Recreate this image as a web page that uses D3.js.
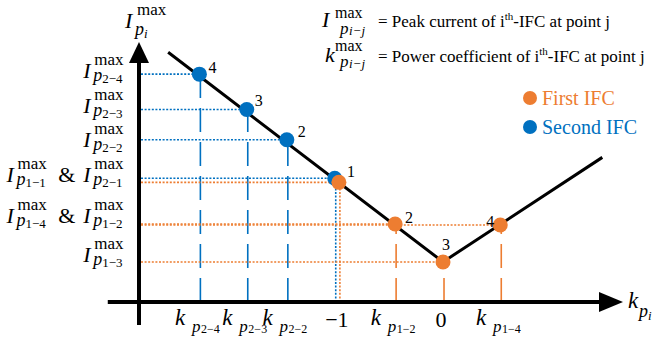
<!DOCTYPE html>
<html>
<head>
<meta charset="utf-8">
<script src="https://cdn.jsdelivr.net/npm/d3@7"></script>
<style>
  body { margin: 0; background: #fff; }
  svg { display: block; }
</style>
</head>
<body>
<div id="viz"></div>
<script>
const width = 655;
const height = 337;

// operating points j = 1..4 of each IFC (k = power coefficient, I = peak current)
const firstK = [-1, -0.46, 0, 0.55];
const firstI = [1.15, 0.75, 0.385, 0.74];
const secondK = [-1.04, -1.5, -1.885, -2.34];
const secondI = [1.19, 1.56, 1.85, 2.19];
const pointIds = ['1', '2', '3', '4'];

// the black V-shaped characteristic
const curveK = [-2.64, 0, 1.53];
const curveI = [2.4, 0.385, 1.39];

// tick labels (['k', index] = k_p index, single string = plain number)
const xTickK = [-2.34, -1.885, -1.5, -1, -0.46, 0, 0.55];
const xTickLabels = [['k', '2−4'], ['k', '2−3'], ['k', '2−2'], ['−1'], ['k', '1−2'], ['0'], ['k', '1−4']];
const yTickI = [2.19, 1.85, 1.56, 1.19, 0.75, 0.385];
const yTickLabels = [['2−4'], ['2−3'], ['2−2'], ['1−1', '2−1'], ['1−4', '1−2'], ['1−3']];

const legendNames = ['First IFC', 'Second IFC'];

const blue = '#0070c0';
const orange = '#ed7d31';
const serif = '"Liberation Serif", "DejaVu Serif", "Times New Roman", serif';

// layout nudges for labels only
const yLabelNudge = [0, -1, 3, 0, -5, -4];
const blueLabelOffset = [null, [11, -3], [8, -4], [9, -1]];
const orangeLabelOffset = [[8, -5], [10, -1], [-1, -12], [-14, 2]];

const svg = d3.select('#viz').append('svg')
  .attr('width', width)
  .attr('height', height)
  .attr('font-family', serif)
  .style('font-family', serif);

const xScale = d3.scaleLinear().domain([-2.92, 1.7]).range([139, 620]);
const yScale = d3.scaleLinear().domain([0, 2.47]).range([302, 45]);

const x0 = xScale(-2.92);
const y0 = yScale(0);

/**
 * Builds a symbol like I^max_{p_{2-4}} inside a group, origin at the base glyph baseline.
 */
function mathLabel(parent, base, idx, st) {
  const g = parent.append('g');
  g.append('text').attr('font-style', 'italic').attr('font-size', st.base).text(base);
  if (st.sup) {
    g.append('text').attr('x', st.supX).attr('y', st.supY).attr('font-size', st.sup).text('max');
  }
  g.append('text').attr('x', st.pX).attr('y', st.pY)
    .attr('font-style', 'italic').attr('font-size', st.p).text('p');
  g.append('text').attr('x', st.idxX).attr('y', st.idxY)
    .attr('font-style', st.idxItalic ? 'italic' : null)
    .attr('font-size', st.idx).text(idx);
  return g;
}

const yStyle = { base: 22, sup: 17, supX: 11, supY: -13, p: 18, pX: 10, pY: 3, idx: 13, idxX: 19, idxY: 5 };
const xStyle = { base: 23, p: 17, pX: 17, pY: 7, idx: 12, idxX: 26, idxY: 8 };

// ---- guide lines
const guides = svg.append('g').attr('fill', 'none');
function addGuides(ks, is, color, dx) {
  ks.forEach((k, j) => {
    const px = xScale(k);
    const py = yScale(is[j]);
    guides.append('line')
      .attr('x1', x0 + 2).attr('x2', px).attr('y1', py).attr('y2', py)
      .attr('stroke', color).attr('stroke-width', 1.6).attr('stroke-dasharray', '2,1.6');
    guides.append('line')
      .attr('x1', px + dx).attr('x2', px + dx).attr('y1', y0).attr('y2', py)
      .attr('stroke', color).attr('stroke-width', 1.6)
      .attr('stroke-dasharray', j === 0 ? '2,1.6' : '24,10');
  });
}
addGuides(secondK, secondI, blue, 1);
addGuides(firstK, firstI, orange, 1);

// ---- the characteristic
const line = d3.line().x((d) => xScale(d[0])).y((d) => yScale(d[1]));
svg.append('path')
  .attr('d', line(d3.zip(curveK, curveI)))
  .attr('fill', 'none')
  .attr('stroke', '#000')
  .attr('stroke-width', 3);

// ---- axes
svg.append('line')
  .attr('x1', x0).attr('x2', x0).attr('y1', yScale(-0.22)).attr('y2', 60)
  .attr('stroke', '#000').attr('stroke-width', 4);
svg.append('path')
  .attr('d', `M${x0},42 L${x0 - 10},63 L${x0 + 10},63 Z`).attr('fill', '#000');
svg.append('line')
  .attr('x1', xScale(-3.22)).attr('x2', 602).attr('y1', y0).attr('y2', y0)
  .attr('stroke', '#000').attr('stroke-width', 4);
svg.append('path')
  .attr('d', `M623,${y0} L599,${y0 - 10} L599,${y0 + 10} Z`).attr('fill', '#000');

// ---- points
const pts = svg.append('g');
function addPoints(ks, is, color, offsets) {
  ks.forEach((k, j) => {
    const px = xScale(k);
    const py = yScale(is[j]);
    pts.append('circle').attr('cx', px).attr('cy', py).attr('r', 7.5).attr('fill', color);
    if (offsets[j]) {
      pts.append('text')
        .attr('x', px + offsets[j][0]).attr('y', py + offsets[j][1])
        .attr('font-size', 16).text(pointIds[j]);
    }
  });
}
addPoints(secondK, secondI, blue, blueLabelOffset);
addPoints(firstK, firstI, orange, orangeLabelOffset);

// ---- y tick labels
yTickLabels.forEach((lab, i) => {
  const g = svg.append('g');
  if (lab.length === 1) {
    mathLabel(g, 'I', lab[0], yStyle);
  } else {
    const a = mathLabel(g, 'I', lab[0], yStyle);
    const wa = a.node().getBBox().width;
    g.append('text').attr('x', wa + 10).attr('font-size', 22).text('&');
    mathLabel(g, 'I', lab[1], yStyle).attr('transform', `translate(${wa + 35},0)`);
  }
  const bb = g.node().getBBox();
  g.attr('transform', `translate(${124 - (bb.x + bb.width)},${yScale(yTickI[i]) + 4 + yLabelNudge[i]})`);
});

// ---- x tick labels
xTickLabels.forEach((lab, i) => {
  const g = svg.append('g');
  if (lab.length === 2) {
    mathLabel(g, lab[0], lab[1], xStyle);
  } else {
    g.append('text').attr('font-size', 22).text(lab[0]);
  }
  const bb = g.node().getBBox();
  const cx = xScale(xTickK[i]) - 2;
  g.attr('transform', `translate(${cx - (bb.x + bb.width / 2)},${lab.length === 2 ? 325 : 327})`);
});

// ---- axis titles
mathLabel(svg, 'I', 'i', { base: 22, sup: 17, supX: 12, supY: -13, p: 18, pX: 10, pY: 7, idx: 13, idxX: 19, idxY: 10, idxItalic: true })
  .attr('transform', 'translate(125,28)');
mathLabel(svg, 'k', 'i', { base: 23, p: 18, pX: 11, pY: 9, idx: 13, idxX: 20, idxY: 12, idxItalic: true })
  .attr('transform', 'translate(628,308)');

// ---- definitions
mathLabel(svg, 'I', 'i−j', { base: 22, sup: 16, supX: 13, supY: -9, p: 17, pX: 18, pY: 7, idx: 13, idxX: 27, idxY: 8, idxItalic: true })
  .attr('transform', 'translate(322,27)');
mathLabel(svg, 'k', 'i−j', { base: 22, sup: 16, supX: 10, supY: -11, p: 17, pX: 15, pY: 5, idx: 13, idxX: 24, idxY: 6, idxItalic: true })
  .attr('transform', 'translate(325,62)');

const defs = [['= Peak current of i', '-IFC at point j', 27], ['= Power coefficient of i', '-IFC at point j', 62]];
defs.forEach((d) => {
  const t = svg.append('text').attr('x', 378).attr('y', d[2]).attr('font-size', 17);
  t.append('tspan').text(d[0]);
  t.append('tspan').attr('dy', -7).attr('font-size', 11).text('th');
  t.append('tspan').attr('dy', 7).text(d[1]);
});

// ---- legend
const legendColors = [orange, blue];
legendNames.forEach((name, i) => {
  const ly = 98 + i * 29;
  svg.append('circle').attr('cx', 530).attr('cy', ly).attr('r', 7).attr('fill', legendColors[i]);
  svg.append('text').attr('x', 542).attr('y', ly + 7)
    .attr('font-size', 20).attr('fill', legendColors[i]).text(name);
});
</script>
</body>
</html>
